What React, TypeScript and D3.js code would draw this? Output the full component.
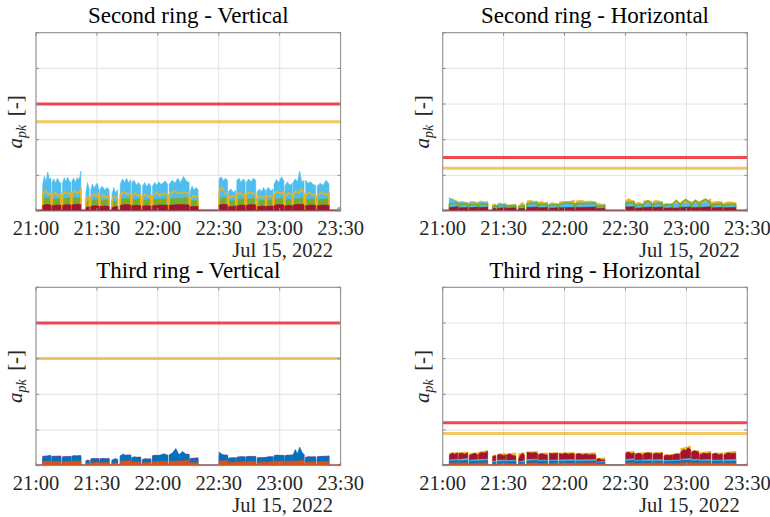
import React from 'react'
import * as d3 from 'd3'

// operating periods, minutes after 21:00 (shared by all sensors)
const blocks: [number, number][] = [
  [3.3, 7.4], [7.9, 12.3], [13.1, 17.2], [17.7, 22.1], [24.6, 26.2], [27, 31], [31.5, 36], [37.4, 40.2],
  [41.5, 46.7], [47.2, 51.6], [52.5, 56.6], [57.4, 64.8], [65.6, 75.4], [75.9, 79.8],
  [90.2, 94.3], [94.8, 98.4], [98.9, 103], [103.6, 108.2], [109, 113.1], [113.4, 116.7], [117.2, 122.1],
  [122.6, 126.2], [126.6, 132], [132.8, 137.7], [138.5, 144.3], [148.4, 149.9],
]

const xTickLabels = ['21:00', '21:30', '22:00', '22:30', '23:00', '23:30']
const yTicks = [0, 1, 2, 3, 4, 5]

// Second ring - Vertical
const srvLightBlue = [
  [0.75, 0.98, 0.82, 1.1, 0.88, 0.92], [0.8, 0.9, 0.78, 0.92, 0.82, 0.78], [0.8, 0.93, 0.82, 0.95, 0.84, 0.8],
  [0.85, 0.92, 0.8, 0.94, 0.86, 1.12], [0.55, 0.8, 0.62], [0.6, 0.76, 0.64, 0.72, 0.78, 0.6],
  [0.6, 0.7, 0.58, 0.66, 0.6], [0.45, 0.66, 0.5, 0.6], [0.75, 0.9, 0.8, 0.92, 0.78, 0.88],
  [0.8, 0.86, 0.72, 0.8, 0.7], [0.7, 0.8, 0.68, 0.78, 0.7], [0.7, 0.8, 0.72, 0.82, 0.74, 0.8, 0.84, 0.75],
  [0.75, 0.86, 0.78, 0.92, 0.8, 0.97, 0.84, 0.8], [0.55, 0.7, 0.58, 0.66, 0.6],
  [0.9, 0.96, 0.84, 0.92, 0.86], [0.55, 0.62, 0.52, 0.58], [0.85, 0.92, 0.8, 0.9, 0.84],
  [0.8, 0.9, 0.82, 0.92, 0.86], [0.55, 0.62, 0.54, 0.66, 0.55], [0.6, 0.66, 0.56, 0.62],
  [0.75, 0.88, 0.8, 0.96, 0.84], [0.7, 0.82, 0.72, 0.78], [0.8, 0.9, 0.82, 1.12, 0.8, 0.86],
  [0.86, 0.78, 0.82, 0.74, 0.72], [0.7, 0.78, 0.72, 0.86, 0.76], [0.08, 0.12],
]
const srvYellow = [
  [0.45, 0.58, 0.48, 0.5], [0.42, 0.52, 0.44, 0.48], [0.45, 0.54, 0.47, 0.5], [0.5, 0.56, 0.5, 0.6],
  [0.35, 0.4], [0.4, 0.47, 0.41, 0.5], [0.38, 0.44, 0.39, 0.43], [0.3, 0.42, 0.35],
  [0.45, 0.54, 0.48, 0.47], [0.42, 0.5, 0.44, 0.45], [0.4, 0.46, 0.41, 0.44], [0.42, 0.52, 0.44, 0.5, 0.46],
  [0.45, 0.56, 0.48, 0.54, 0.48], [0.35, 0.42, 0.37], [0.55, 0.66, 0.5, 0.48], [0.35, 0.42, 0.37],
  [0.45, 0.52, 0.46, 0.45], [0.45, 0.54, 0.48, 0.5], [0.35, 0.42, 0.37, 0.4], [0.38, 0.44, 0.4],
  [0.45, 0.56, 0.48, 0.54], [0.4, 0.5, 0.44], [0.45, 0.56, 0.5, 0.62, 0.5], [0.45, 0.52, 0.46, 0.44],
  [0.42, 0.52, 0.46, 0.5], [0.03, 0.05],
]
const srvGreen = [
  [0.35, 0.38], [0.33, 0.35], [0.35, 0.37], [0.36, 0.38], [0.25, 0.28], [0.3, 0.32], [0.3, 0.31], [0.25, 0.28],
  [0.34, 0.36], [0.32, 0.34], [0.3, 0.32], [0.33, 0.35], [0.34, 0.37], [0.28, 0.3], [0.36, 0.38], [0.28, 0.3],
  [0.33, 0.35], [0.33, 0.36], [0.28, 0.3], [0.29, 0.31], [0.33, 0.36], [0.31, 0.33], [0.34, 0.36], [0.33, 0.34],
  [0.32, 0.35], [0.02, 0.03],
]
const srvDarkRed = [
  [0.16, 0.18, 0.17], [0.15, 0.17, 0.16], [0.16, 0.18, 0.17], [0.17, 0.19, 0.18], [0.1, 0.12], [0.13, 0.15, 0.14],
  [0.13, 0.14, 0.13], [0.1, 0.13], [0.16, 0.18, 0.17], [0.15, 0.16, 0.15], [0.14, 0.15, 0.14], [0.15, 0.17, 0.16],
  [0.16, 0.18, 0.17], [0.12, 0.13], [0.17, 0.19, 0.18], [0.12, 0.14], [0.15, 0.17, 0.16], [0.16, 0.18, 0.17],
  [0.12, 0.14, 0.13], [0.13, 0.14], [0.16, 0.18, 0.17], [0.14, 0.16, 0.15], [0.17, 0.19, 0.18], [0.15, 0.17, 0.16],
  [0.15, 0.17, 0.16], [0.02, 0.03],
]

// Second ring - Horizontal
const srhYellow = [
  [0.3, 0.35, 0.3, 0.28], [0.25, 0.27, 0.25, 0.24], [0.25, 0.27, 0.26, 0.24], [0.26, 0.28, 0.25, 0.27],
  [0.18, 0.2, 0.18], [0.2, 0.23, 0.19, 0.22], [0.18, 0.17, 0.19, 0.18], [0.15, 0.2, 0.25, 0.18],
  [0.28, 0.3, 0.27, 0.28], [0.25, 0.27, 0.23, 0.25], [0.2, 0.24, 0.22, 0.2], [0.25, 0.27, 0.26, 0.28, 0.3],
  [0.28, 0.3, 0.27, 0.28, 0.25], [0.2, 0.22, 0.18, 0.2], [0.3, 0.35, 0.3, 0.28], [0.22, 0.25, 0.2],
  [0.28, 0.3, 0.27], [0.27, 0.3, 0.28, 0.26], [0.2, 0.22, 0.2, 0.22], [0.22, 0.25, 0.22],
  [0.25, 0.3, 0.28, 0.27], [0.25, 0.3, 0.27], [0.27, 0.32, 0.28, 0.35], [0.25, 0.27, 0.26],
  [0.22, 0.26, 0.25, 0.23], [0.03, 0.04],
]
const srhLightBlue = [
  [0.37, 0.3, 0.25], [0.25, 0.22], [0.24, 0.22], [0.25, 0.23], [0.15, 0.17], [0.18, 0.2], [0.15, 0.17], [0.12, 0.18],
  [0.22, 0.25], [0.2, 0.22], [0.18, 0.2], [0.2, 0.22], [0.22, 0.24], [0.15, 0.17], [0.25, 0.28], [0.18, 0.2],
  [0.2, 0.23], [0.22, 0.24], [0.17, 0.19], [0.18, 0.2], [0.2, 0.24], [0.2, 0.23], [0.22, 0.25], [0.2, 0.22],
  [0.19, 0.21], [0.02, 0.04],
]
const srhGreen = [
  [0.2, 0.22], [0.18, 0.2], [0.18, 0.19], [0.19, 0.2], [0.12, 0.14], [0.15, 0.16], [0.14, 0.15], [0.12, 0.14],
  [0.2, 0.22], [0.18, 0.19], [0.16, 0.18], [0.18, 0.24, 0.2], [0.2, 0.22], [0.14, 0.15], [0.22, 0.24], [0.16, 0.18],
  [0.2, 0.28, 0.2], [0.2, 0.22], [0.16, 0.18], [0.2, 0.3, 0.2], [0.2, 0.32, 0.22], [0.18, 0.3, 0.2], [0.22, 0.33, 0.24],
  [0.18, 0.2], [0.17, 0.19], [0.02, 0.03],
]
const srhDarkRed = [
  [0.1, 0.12], [0.09, 0.1], [0.09, 0.11], [0.1, 0.11], [0.06, 0.07], [0.08, 0.09], [0.08, 0.09], [0.06, 0.08],
  [0.1, 0.11], [0.09, 0.1], [0.08, 0.09], [0.09, 0.1], [0.1, 0.11], [0.07, 0.08], [0.11, 0.12], [0.08, 0.09],
  [0.1, 0.11], [0.1, 0.11], [0.08, 0.09], [0.08, 0.09], [0.1, 0.11], [0.09, 0.1], [0.1, 0.12], [0.09, 0.1],
  [0.09, 0.1], [0.02, 0.02],
]

// Third ring - Vertical
const trvPurple = [
  [0.26, 0.28], [0.26, 0.27], [0.25, 0.26], [0.27, 0.28], [0.14, 0.15], [0.19, 0.2], [0.19, 0.2], [0.16, 0.18],
  [0.28, 0.3], [0.23, 0.24], [0.18, 0.19], [0.28, 0.3], [0.3, 0.32], [0.2, 0.22], [0.3, 0.3], [0.21, 0.22],
  [0.24, 0.25], [0.25, 0.26], [0.22, 0.23], [0.24, 0.25], [0.28, 0.29], [0.28, 0.3], [0.3, 0.32], [0.24, 0.25],
  [0.25, 0.27], [0.02, 0.03],
]
const trvBlue = [
  [0.22, 0.27, 0.24, 0.28, 0.26], [0.24, 0.26, 0.23, 0.25, 0.24], [0.22, 0.25, 0.22, 0.24, 0.23],
  [0.25, 0.28, 0.25, 0.27, 0.26], [0.12, 0.15, 0.13], [0.17, 0.2, 0.17, 0.19], [0.18, 0.2, 0.17, 0.19],
  [0.12, 0.18, 0.2, 0.15], [0.25, 0.33, 0.28, 0.3, 0.26], [0.22, 0.25, 0.21, 0.2], [0.15, 0.2, 0.17, 0.16],
  [0.25, 0.29, 0.26, 0.31, 0.33, 0.28], [0.3, 0.36, 0.48, 0.3, 0.4, 0.32, 0.3], [0.17, 0.2, 0.17, 0.19],
  [0.38, 0.32, 0.28, 0.27], [0.2, 0.22, 0.2], [0.22, 0.25, 0.23], [0.24, 0.26, 0.23, 0.25],
  [0.2, 0.22, 0.2, 0.23], [0.22, 0.25, 0.23], [0.26, 0.3, 0.27, 0.28], [0.25, 0.3, 0.27, 0.3],
  [0.3, 0.45, 0.33, 0.52, 0.38, 0.3], [0.22, 0.25, 0.23, 0.24], [0.23, 0.26, 0.24, 0.27], [0.02, 0.03],
]
const trvOrange = [
  [0.11, 0.13], [0.11, 0.12], [0.1, 0.12], [0.12, 0.13], [0.06, 0.07], [0.08, 0.09], [0.08, 0.09], [0.06, 0.08],
  [0.12, 0.14], [0.1, 0.11], [0.08, 0.09], [0.11, 0.13], [0.12, 0.14], [0.08, 0.09], [0.13, 0.14], [0.09, 0.1],
  [0.1, 0.11], [0.11, 0.12], [0.09, 0.1], [0.1, 0.11], [0.12, 0.13], [0.11, 0.13], [0.12, 0.15], [0.1, 0.11],
  [0.1, 0.12], [0.03, 0.04],
]

// Third ring - Horizontal
const trhYellow = [
  [0.35, 0.37], [0.37, 0.38], [0.34, 0.36], [0.38, 0.42], [0.28, 0.3], [0.32, 0.34], [0.33, 0.35], [0.33, 0.36],
  [0.38, 0.4], [0.34, 0.36], [0.35, 0.37], [0.35, 0.37], [0.34, 0.36], [0.2, 0.22], [0.38, 0.4], [0.34, 0.37],
  [0.36, 0.38], [0.36, 0.38], [0.3, 0.32], [0.32, 0.35], [0.48, 0.55], [0.4, 0.42], [0.36, 0.4], [0.34, 0.36],
  [0.36, 0.4], [0.03, 0.04],
]
const trhDarkRed = [
  [0.3, 0.35, 0.32, 0.36], [0.33, 0.35, 0.32, 0.36], [0.28, 0.32, 0.35, 0.3], [0.33, 0.37, 0.35, 0.4],
  [0.25, 0.28, 0.27], [0.3, 0.32, 0.28, 0.3], [0.3, 0.33, 0.28, 0.27], [0.2, 0.3, 0.35, 0.3],
  [0.38, 0.36, 0.35, 0.37, 0.34], [0.3, 0.34, 0.31, 0.3], [0.35, 0.33, 0.34, 0.35],
  [0.34, 0.32, 0.35, 0.32, 0.34, 0.33], [0.32, 0.34, 0.3, 0.33, 0.3, 0.32, 0.3], [0.18, 0.2, 0.15, 0.17],
  [0.35, 0.38, 0.33, 0.36], [0.32, 0.35, 0.3], [0.33, 0.36, 0.34], [0.32, 0.35, 0.33, 0.36],
  [0.27, 0.3, 0.28, 0.3], [0.3, 0.33, 0.32], [0.37, 0.45, 0.42, 0.5, 0.45], [0.38, 0.42, 0.4, 0.37],
  [0.3, 0.35, 0.33, 0.36], [0.32, 0.35, 0.3, 0.33], [0.3, 0.36, 0.34, 0.35], [0.02, 0.03],
]
const trhLightBlue = [
  [0.16, 0.18], [0.17, 0.2], [0.15, 0.17], [0.17, 0.18], [0.12, 0.13], [0.15, 0.16], [0.14, 0.15], [0.1, 0.14],
  [0.17, 0.18], [0.15, 0.16], [0.15, 0.16], [0.16, 0.17], [0.16, 0.17], [0.1, 0.12], [0.17, 0.19], [0.15, 0.16],
  [0.16, 0.17], [0.16, 0.17], [0.14, 0.15], [0.15, 0.16], [0.18, 0.2], [0.17, 0.18], [0.16, 0.17], [0.15, 0.16],
  [0.16, 0.17], [0.02, 0.03],
]
const trhBlue = [
  [0.13, 0.14], [0.13, 0.15], [0.12, 0.13], [0.13, 0.14], [0.09, 0.1], [0.11, 0.12], [0.11, 0.12], [0.08, 0.1],
  [0.13, 0.14], [0.12, 0.13], [0.12, 0.13], [0.12, 0.13], [0.12, 0.13], [0.08, 0.09], [0.13, 0.15], [0.12, 0.13],
  [0.12, 0.13], [0.12, 0.13], [0.11, 0.12], [0.12, 0.13], [0.14, 0.15], [0.13, 0.14], [0.12, 0.13], [0.12, 0.13],
  [0.12, 0.13], [0.02, 0.02],
]
const trhOrange = [
  [0.07, 0.08], [0.07, 0.08], [0.06, 0.07], [0.07, 0.08], [0.05, 0.05], [0.06, 0.07], [0.06, 0.06], [0.05, 0.06],
  [0.07, 0.08], [0.06, 0.07], [0.06, 0.07], [0.07, 0.07], [0.07, 0.08], [0.05, 0.05], [0.07, 0.08], [0.06, 0.07],
  [0.07, 0.07], [0.07, 0.08], [0.06, 0.07], [0.06, 0.07], [0.08, 0.09], [0.07, 0.08], [0.07, 0.08], [0.06, 0.07],
  [0.07, 0.07], [0.03, 0.03],
]

// alarm / warning levels per panel
const alarmLevels = [3, 1.5, 4, 1.2]
const warnLevels = [2.5, 1.2, 3, 0.9]

const C = {
  blue: '#0072BD', orange: '#D95319', yellow: '#EDB120', purple: '#7E2F8E',
  green: '#77AC30', lightBlue: '#4DBEEE', darkRed: '#A2142F',
}

type Series = { color: string; kind: 'area' | 'line'; vals: number[][]; idle: number }

const panels: { title: string; left: number; top: number; series: Series[] }[] = [
  {
    title: 'Second ring - Vertical', left: 36, top: 32.7,
    series: [
      { color: C.lightBlue, kind: 'area', vals: srvLightBlue, idle: 0.03 },
      { color: C.green, kind: 'area', vals: srvGreen, idle: 0.02 },
      { color: C.yellow, kind: 'line', vals: srvYellow, idle: 0.02 },
      { color: C.darkRed, kind: 'area', vals: srvDarkRed, idle: 0.03 },
    ],
  },
  {
    title: 'Second ring - Horizontal', left: 442.7, top: 32.7,
    series: [
      { color: C.yellow, kind: 'area', vals: srhYellow, idle: 0.02 },
      { color: C.lightBlue, kind: 'area', vals: srhLightBlue, idle: 0.02 },
      { color: C.green, kind: 'line', vals: srhGreen, idle: 0.02 },
      { color: C.darkRed, kind: 'area', vals: srhDarkRed, idle: 0.02 },
    ],
  },
  {
    title: 'Third ring - Vertical', left: 36, top: 287.3,
    series: [
      { color: C.purple, kind: 'area', vals: trvPurple, idle: 0.02 },
      { color: C.blue, kind: 'area', vals: trvBlue, idle: 0.02 },
      { color: C.orange, kind: 'area', vals: trvOrange, idle: 0.02 },
    ],
  },
  {
    title: 'Third ring - Horizontal', left: 442.7, top: 287.3,
    series: [
      { color: C.yellow, kind: 'area', vals: trhYellow, idle: 0.02 },
      { color: C.darkRed, kind: 'area', vals: trhDarkRed, idle: 0.02 },
      { color: C.lightBlue, kind: 'area', vals: trhLightBlue, idle: 0.02 },
      { color: C.blue, kind: 'area', vals: trhBlue, idle: 0.02 },
      { color: C.orange, kind: 'area', vals: trhOrange, idle: 0.02 },
    ],
  },
]

const W = 304.6
const H = 178.3
const start = new Date(2022, 6, 15, 21, 0)
const end = new Date(2022, 6, 15, 23, 30)
const atMin = (m: number) => new Date(start.getTime() + m * 60000)

// turn per-block samples into [minute, value] points with steps at the block edges
function toPoints(vals: number[][], idle: number): [number, number][] {
  const pts: [number, number][] = [[0, idle]]
  blocks.forEach(([s, e], i) => {
    const v = vals[i]
    pts.push([s, idle])
    v.forEach((y, j) => pts.push([s + ((e - s) * j) / (v.length - 1), y]))
    pts.push([e, idle])
  })
  pts.push([150, idle])
  return pts
}

const serif = '"Liberation Serif", "Times New Roman", serif'
const boxColor = '#8c8c8c'

function Panel({ p, idx }: { p: typeof panels[number]; idx: number }) {
  const x = d3.scaleTime().domain([start, end]).range([0, W])
  const y = d3.scaleLinear().domain([0, 5]).range([H, 0])
  const xTicks = x.ticks(d3.timeMinute.every(30)!)
  const fmt = d3.timeFormat('%H:%M')
  const area = d3.area<[number, number]>().x(d => x(atMin(d[0]))).y0(y(0)).y1(d => y(d[1]))
  const line = d3.line<[number, number]>().x(d => x(atMin(d[0]))).y(d => y(d[1]))
  const clipId = `clip${idx}`
  return (
    <g transform={`translate(${p.left},${p.top})`}>
      <defs>
        <clipPath id={clipId}><rect x={0} y={0} width={W} height={H} /></clipPath>
      </defs>
      <rect x={0} y={0} width={W} height={H} fill="#fff" />
      {yTicks.map(t => (
        <line key={'gy' + t} x1={0} x2={W} y1={y(t)} y2={y(t)} stroke="#e2e2e2" />
      ))}
      {xTicks.map((t, i) => (
        <line key={'gx' + i} x1={x(t)} x2={x(t)} y1={0} y2={H} stroke="#e2e2e2" />
      ))}
      <g clipPath={`url(#${clipId})`}>
        {p.series.map((s, i) => {
          const pts = toPoints(s.vals, s.idle)
          return s.kind === 'area'
            ? <path key={i} d={area(pts) ?? ''} fill={s.color} stroke={s.color} strokeWidth={0.6} />
            : <path key={i} d={line(pts) ?? ''} fill="none" stroke={s.color} strokeWidth={1.6} />
        })}
        <line x1={0} x2={W} y1={y(alarmLevels[idx])} y2={y(alarmLevels[idx])} stroke="#ee1c24" strokeOpacity={0.8} strokeWidth={3} />
        <line x1={0} x2={W} y1={y(warnLevels[idx])} y2={y(warnLevels[idx])} stroke={C.yellow} strokeOpacity={0.7} strokeWidth={3} />
      </g>
      {yTicks.map(t => (
        <g key={'ty' + t}>
          <line x1={0} x2={3} y1={y(t)} y2={y(t)} stroke={boxColor} />
          <line x1={W - 3} x2={W} y1={y(t)} y2={y(t)} stroke={boxColor} />
        </g>
      ))}
      {xTicks.map((t, i) => (
        <g key={'tx' + i}>
          <line x1={x(t)} x2={x(t)} y1={H} y2={H - 3} stroke={boxColor} />
          <line x1={x(t)} x2={x(t)} y1={0} y2={3} stroke={boxColor} />
          <text x={x(t)} y={H + 24} textAnchor="middle" fontFamily={serif} fontSize={20.5} fill="#262626">
            {fmt(t)}
          </text>
        </g>
      ))}
      <rect x={0} y={0} width={W} height={H} fill="none" stroke={boxColor} />
      <text x={W - 7.5} y={H + 46.5} textAnchor="end" fontFamily={serif} fontSize={20.5} fill="#262626">
        Jul 15, 2022
      </text>
      <text x={W / 2} y={-9.4} textAnchor="middle" fontFamily={serif} fontSize={23} fill="#000">
        {p.title}
      </text>
      <text transform={`translate(-14,${H / 2}) rotate(-90)`} textAnchor="middle" fontFamily={serif} fontSize={21} fill="#262626">
        <tspan fontStyle="italic">a</tspan>
        <tspan fontStyle="italic" fontSize={14} dy={4}>pk</tspan>
        <tspan dy={-4}>{'\u2009\u2009[-]'}</tspan>
      </text>
    </g>
  )
}

export default function App() {
  return (
    <svg width={770} height={517} style={{ position: 'absolute', left: 0, top: 0, background: '#fff' }}>
      {panels.map((p, i) => <Panel key={i} p={p} idx={i} />)}
    </svg>
  )
}
